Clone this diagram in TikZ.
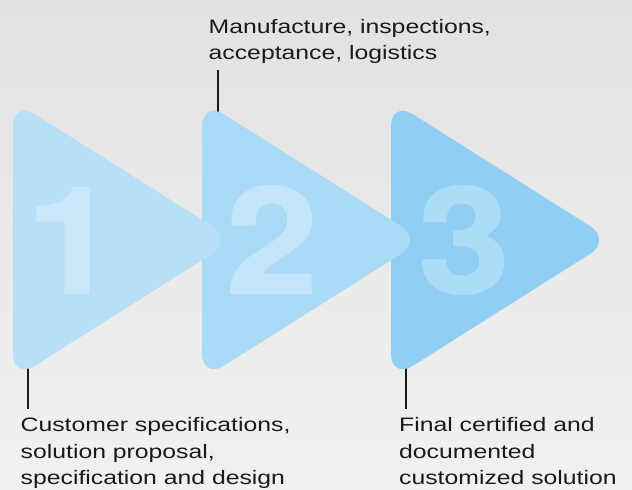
\documentclass[tikz,border=0pt]{standalone}
\usepackage{fontspec}
\newfontfamily\labelfont{Liberation Sans}[FakeStretch=1.27]
\newfontfamily\digitfont{TeX Gyre Heros}[FakeStretch=1.12,FakeBold=1.2]
\definecolor{bgtop}{HTML}{E2E2E2}
\definecolor{bgbot}{HTML}{F1F1F0}
\definecolor{triA}{HTML}{B7DFF8}
\definecolor{triB}{HTML}{ABDAF7}
\definecolor{triC}{HTML}{90CFF3}
\definecolor{digA}{HTML}{CBE8FA}
\definecolor{digB}{HTML}{C2E5F9}
\definecolor{digC}{HTML}{ACDCF6}
\definecolor{labeltext}{HTML}{1A1A1A}
\definecolor{leadercol}{HTML}{1A1A1A}
\begin{document}
\begin{tikzpicture}[x=1pt,y=-1pt,
  tri/.style={rounded corners=26pt},
  lbl/.style={font=\labelfont\fontsize{19.5}{26.5}\selectfont, align=left, inner sep=0pt, anchor=north west, text=labeltext},
  digit/.style={font=\digitfont\bfseries\fontsize{148}{148}\selectfont, inner sep=0pt, anchor=base},
  leader/.style={draw=leadercol, line width=1.3pt}]
\useasboundingbox (0,0) rectangle (632,490);
\shade[top color=bgtop,bottom color=bgbot] (0,0) rectangle (632,490);
% labels
\node[lbl] (ltop) at (208.5,19.1) {Manufacture, inspections,\\acceptance, logistics};
\node[lbl] (lone) at (20.5,417.5) {Customer specifications,\\solution proposal,\\specification and design};
\node[lbl] (lthree) at (399,417.5) {Final certified and\\documented\\customized solution};
% leader ends
\coordinate (t2a) at (218,70);
\coordinate (t2b) at (218,122);
\coordinate (t1a) at (28,358);
\coordinate (t1b) at (28,409);
\coordinate (t3a) at (406,358);
\coordinate (t3b) at (406,409);
\draw[leader] (t2a) -- (t2b);
\draw[leader] (t1a) -- (t1b);
\draw[leader] (t3a) -- (t3b);
% triangles
\fill[triC, tri] (391,100.4) -- (612,240) -- (391,379.6) -- cycle;
\fill[triB, tri] (202,100.4) -- (423,240) -- (202,379.6) -- cycle;
\fill[triA, tri] (13,100.4) -- (234,240) -- (13,379.6) -- cycle;
% digits
\node[digit, text=digA] (d1) at (72,293) {1};
\node[digit, text=digB] (d2) at (272,293) {2};
\node[digit, text=digC] (d3) at (464,293) {3};
\end{tikzpicture}
\end{document}
